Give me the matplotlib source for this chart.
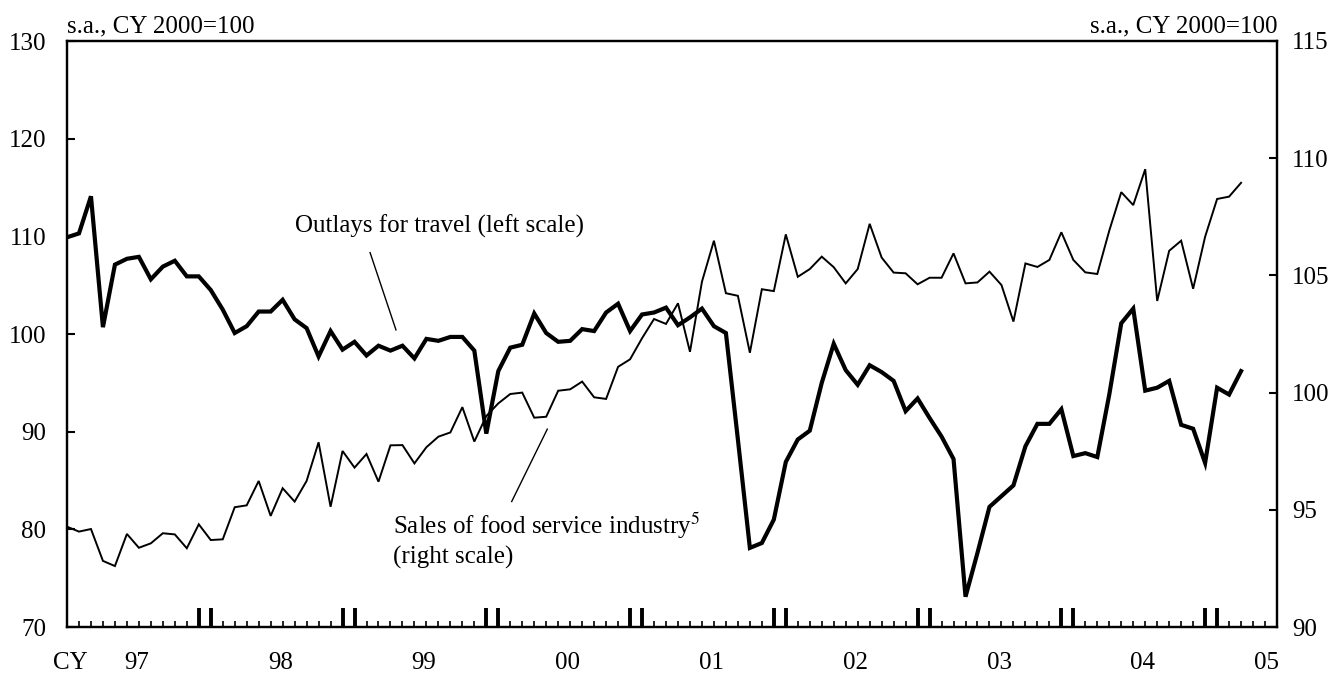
import numpy as np
import matplotlib.pyplot as plt

plt.rcParams['font.family'] = ['Liberation Serif', 'DejaVu Serif']
plt.rcParams['mathtext.fontset'] = 'stix'

# Monthly series, Jan 1997 - Mar 2005 (s.a., CY 2000=100)
travel = [109.9, 110.3, 114.1, 100.7, 107.1, 107.7, 107.9, 105.6, 106.9, 107.5, 105.9, 105.9,
          104.5, 102.5, 100.1, 100.8, 102.3, 102.3, 103.5, 101.5, 100.6, 97.7, 100.3, 98.4,
          99.2, 97.8, 98.8, 98.3, 98.8, 97.5, 99.5, 99.3, 99.7, 99.7, 98.3, 89.8,
          96.2, 98.6, 98.9, 102.1, 100.1, 99.2, 99.3, 100.5, 100.3, 102.2, 103.1, 100.3,
          102.0, 102.2, 102.7, 100.9, 101.7, 102.6, 100.8, 100.1, 89.2, 78.1, 78.6, 81.0,
          86.9, 89.2, 90.1, 95.0, 99.0, 96.3, 94.8, 96.8, 96.1, 95.2, 92.1, 93.4,
          91.4, 89.5, 87.2, 73.1, 77.6, 82.3, 83.4, 84.5, 88.5, 90.8, 90.8, 92.3,
          87.5, 87.8, 87.4, 93.8, 101.1, 102.6, 94.2, 94.5, 95.2, 90.7, 90.3, 86.8,
          94.5, 93.8, 96.2]

food = [94.28, 94.07, 94.18, 92.82, 92.60, 93.97, 93.38, 93.57, 94.00, 93.95, 93.36, 94.38,
        93.71, 93.74, 95.11, 95.19, 96.23, 94.74, 95.92, 95.35, 96.23, 97.88, 95.13, 97.51,
        96.80, 97.38, 96.20, 97.75, 97.76, 96.98, 97.67, 98.12, 98.30, 99.38, 97.91, 99.00,
        99.54, 99.94, 100.00, 98.93, 98.97, 100.08, 100.14, 100.47, 99.80, 99.73, 101.10, 101.42,
        102.32, 103.14, 102.93, 103.81, 101.74, 104.73, 106.48, 104.24, 104.13, 101.70, 104.41, 104.33,
        106.75, 104.94, 105.27, 105.80, 105.35, 104.66, 105.27, 107.20, 105.76, 105.12, 105.09, 104.62,
        104.90, 104.90, 105.94, 104.66, 104.70, 105.16, 104.59, 103.03, 105.51, 105.36, 105.66, 106.84,
        105.66, 105.13, 105.06, 106.91, 108.55, 108.00, 109.53, 103.91, 106.05, 106.48, 104.43, 106.65,
        108.26, 108.36, 108.95]

year_labels = ['97', '98', '99', '00', '01', '02', '03', '04', '05']
month = np.arange(len(travel))  # 0 = Jan 1997

fs = 18

fig = plt.figure(figsize=(13.37, 6.78), dpi=100)
ax = fig.add_axes([67 / 1337, 1 - 627 / 678, 1210 / 1337, 586 / 678])
ax2 = ax.twinx()

ax.plot(month, travel, color='black', lw=3.0, solid_joinstyle='miter')
ax2.plot(month, food, color='black', lw=1.4, solid_joinstyle='miter')

ax.set_zorder(ax2.get_zorder() + 1)
ax.patch.set_visible(False)

ax.set_xlim(0, 101)
ax.set_ylim(70, 130)
ax2.set_ylim(90, 115)
ax.set_yticks(np.arange(70, 131, 10))
ax2.set_yticks(np.arange(90, 116, 5))

# long double ticks at each Dec/Jan, short ticks for the other months
dec_jan = [m for k in range(8) for m in (11 + 12 * k, 12 + 12 * k)]
ax.set_xticks(dec_jan)
ax.set_xticks([m for m in range(0, 101) if m not in dec_jan], minor=True)
ax.tick_params(axis='x', which='major', direction='in', length=14, width=2.8,
               top=False, labelbottom=False)
ax.tick_params(axis='x', which='minor', direction='in', length=4.5, width=1.2,
               top=False, labelbottom=False)
ax.tick_params(axis='y', direction='in', length=6, width=1.5, labelsize=fs, pad=15)
ax2.tick_params(axis='y', direction='in', length=6, width=1.5, labelsize=fs, pad=11)

for a in (ax, ax2):
    for s in a.spines.values():
        s.set_linewidth(1.6)

xt = ax.get_xaxis_transform()
for k, lab in enumerate(year_labels):
    x = 5.8 + 12 * k if k < 8 else 100.1
    ax.text(x, -0.062, lab, transform=xt, ha='center', va='center', fontsize=fs)
ax.text(0.25, -0.062, 'CY', transform=xt, ha='center', va='center', fontsize=fs)

ax.text(0, 1.014, 's.a., CY 2000=100', transform=ax.transAxes, ha='left',
        va='baseline', fontsize=fs)
ax.text(1, 1.014, 's.a., CY 2000=100', transform=ax.transAxes, ha='right',
        va='baseline', fontsize=fs)

# series labels with leader lines
ax.text(19.0, 110.4, 'Outlays for travel (left scale)', fontsize=fs, va='baseline')
ax.plot([25.3, 27.46], [108.33, 100.42], color='black', lw=1.0)
ax.text(27.2, 79.5, 'Sales of food service industry$^{5}$', fontsize=fs, va='baseline')
ax.text(27.2, 76.5, '(right scale)', fontsize=fs, va='baseline')
ax.plot([40.09, 37.12], [90.26, 82.85], color='black', lw=1.0)

fig.savefig('out.png', dpi=100)
